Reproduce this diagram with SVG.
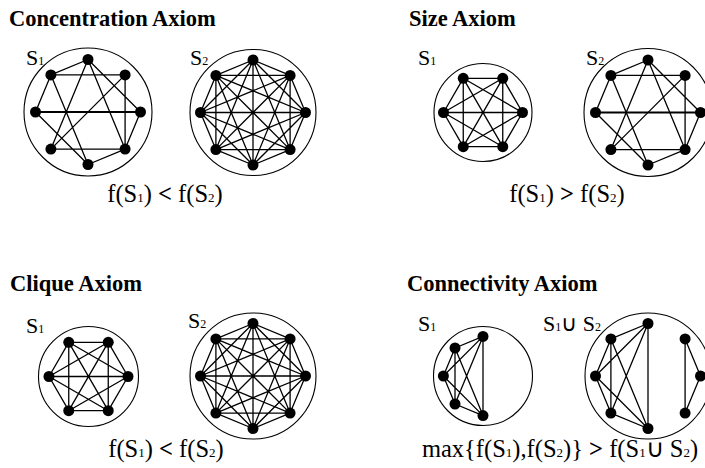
<svg xmlns="http://www.w3.org/2000/svg" xmlns:xlink="http://www.w3.org/1999/xlink" width="705" height="468" viewBox="0 0 705 468">
<style>
.ring{fill:none;stroke:#000;stroke-width:1.1}
.edge{fill:none;stroke:#000;stroke-width:1.3}
.thick{fill:none;stroke:#000;stroke-width:1.9}
.v{fill:#000}
.title{font-family:"Liberation Serif","Times New Roman",serif;font-weight:bold;font-size:22.5px;fill:#000}
.lbl{font-family:"Liberation Serif","Times New Roman",serif;font-size:22px;fill:#000}
.f{font-family:"Liberation Serif","Times New Roman",serif;font-size:24.5px;fill:#000}
.sub{font-size:13px}
.lbl .sub{font-size:12px}
.op{font-weight:bold}
</style>
<defs>
<g id="oct-nodes">
<circle class="v" cx="0" cy="-52.5" r="5.5"/><circle class="v" cx="37.1" cy="-37.1" r="5.5"/><circle class="v" cx="52.5" cy="0" r="5.5"/><circle class="v" cx="37.1" cy="37.1" r="5.5"/><circle class="v" cx="0" cy="52.5" r="5.5"/><circle class="v" cx="-37.1" cy="37.1" r="5.5"/><circle class="v" cx="-52.5" cy="0" r="5.5"/><circle class="v" cx="-37.1" cy="-37.1" r="5.5"/>
</g>
<g id="hex-nodes">
<circle class="v" cx="-39.5" cy="0" r="5.5"/><circle class="v" cx="39.5" cy="0" r="5.5"/><circle class="v" cx="-19.75" cy="-34.2" r="5.5"/><circle class="v" cx="19.75" cy="-34.2" r="5.5"/><circle class="v" cx="-19.75" cy="34.2" r="5.5"/><circle class="v" cx="19.75" cy="34.2" r="5.5"/>
</g>
<path id="k8" class="edge" d="M0,-52.5L37.1,-37.1M0,-52.5L52.5,0M0,-52.5L37.1,37.1M0,-52.5L0,52.5M0,-52.5L-37.1,37.1M0,-52.5L-52.5,0M0,-52.5L-37.1,-37.1M37.1,-37.1L52.5,0M37.1,-37.1L37.1,37.1M37.1,-37.1L0,52.5M37.1,-37.1L-37.1,37.1M37.1,-37.1L-52.5,0M37.1,-37.1L-37.1,-37.1M52.5,0L37.1,37.1M52.5,0L0,52.5M52.5,0L-37.1,37.1M52.5,0L-52.5,0M52.5,0L-37.1,-37.1M37.1,37.1L0,52.5M37.1,37.1L-37.1,37.1M37.1,37.1L-52.5,0M37.1,37.1L-37.1,-37.1M0,52.5L-37.1,37.1M0,52.5L-52.5,0M0,52.5L-37.1,-37.1M-37.1,37.1L-52.5,0M-37.1,37.1L-37.1,-37.1M-52.5,0L-37.1,-37.1"/>
<path id="k6" class="edge" d="M-19.75,-34.2L19.75,-34.2M-19.75,-34.2L39.5,0M-19.75,-34.2L19.75,34.2M-19.75,-34.2L-19.75,34.2M-19.75,-34.2L-39.5,0M19.75,-34.2L39.5,0M19.75,-34.2L19.75,34.2M19.75,-34.2L-19.75,34.2M19.75,-34.2L-39.5,0M39.5,0L19.75,34.2M39.5,0L-19.75,34.2M39.5,0L-39.5,0M19.75,34.2L-19.75,34.2M19.75,34.2L-39.5,0M-19.75,34.2L-39.5,0"/>
<g id="sparse8">
<path class="edge" d="M0,-52.5L-37.1,-37.1M-37.1,-37.1L37.1,-37.1M0,-52.5L-37.1,37.1M0,-52.5L37.1,37.1M0,-52.5L52.5,0M-37.1,-37.1L-52.5,0M-37.1,-37.1L0,52.5M-52.5,0L0,52.5M37.1,-37.1L-37.1,37.1M37.1,-37.1L37.1,37.1M52.5,0L37.1,37.1M-37.1,37.1L37.1,37.1M37.1,37.1L0,52.5"/>
<path class="thick" d="M-52.5,0L52.5,0"/>
</g>
</defs>

<g id="titles">
<text class="title" x="9" y="26">Concentration Axiom</text>
<text class="title" x="409" y="26">Size Axiom</text>
<text class="title" x="10" y="291">Clique Axiom</text>
<text class="title" x="407" y="291">Connectivity Axiom</text>
</g>

<g id="conc-s1" transform="translate(88,112)">
<circle class="ring" r="64"/>
<g class="connectors"><use xlink:href="#sparse8"/></g>
<use xlink:href="#oct-nodes"/>
</g>
<g id="conc-s2" transform="translate(253,112.5)">
<circle class="ring" r="63"/>
<g class="connectors"><use xlink:href="#k8"/></g>
<use xlink:href="#oct-nodes"/>
</g>
<g id="size-s1" transform="translate(483,112.5)">
<circle class="ring" r="49"/>
<g class="connectors"><use xlink:href="#k6"/></g>
<use xlink:href="#hex-nodes"/>
</g>
<g id="size-s2" transform="translate(648,112.5)">
<circle class="ring" r="64"/>
<g class="connectors"><use xlink:href="#sparse8"/></g>
<use xlink:href="#oct-nodes"/>
</g>
<g id="clique-s1" transform="translate(88.5,376.5)">
<circle class="ring" r="50"/>
<g class="connectors"><use xlink:href="#k6"/></g>
<use xlink:href="#hex-nodes"/>
</g>
<g id="clique-s2" transform="translate(253,376)">
<circle class="ring" r="63"/>
<g class="connectors"><use xlink:href="#k8"/></g>
<use xlink:href="#oct-nodes"/>
</g>
<g id="conn-s1" transform="translate(483,376)">
<circle class="ring" r="49.5"/>
<g class="connectors">
<path class="edge" d="M0,-39.6L-28,-28M0,-39.6L-39.6,0M0,-39.6L-28,28M0,-39.6L0,39.6M-28,-28L-39.6,0M-28,-28L-28,28M-28,-28L0,39.6M-39.6,0L-28,28M-39.6,0L0,39.6M-28,28L0,39.6"/>
</g>
<circle class="v" cx="0" cy="-39.6" r="5.5"/><circle class="v" cx="-28" cy="-28" r="5.5"/><circle class="v" cx="-39.6" cy="0" r="5.5"/><circle class="v" cx="-28" cy="28" r="5.5"/><circle class="v" cx="0" cy="39.6" r="5.5"/>
</g>
<g id="conn-s12" transform="translate(648,376)">
<circle class="ring" r="63"/>
<g class="connectors">
<path class="edge" d="M0,-52.5L-37.1,-37.1M0,-52.5L-52.5,0M0,-52.5L-37.1,37.1M0,-52.5L0,52.5M-37.1,-37.1L-52.5,0M-37.1,-37.1L-37.1,37.1M-37.1,-37.1L0,52.5M-52.5,0L-37.1,37.1M-52.5,0L0,52.5M-37.1,37.1L0,52.5M37.1,-37.1L52.5,0M52.5,0L37.1,37.1M37.1,-37.1L37.1,37.1"/>
</g>
<use xlink:href="#oct-nodes"/>
</g>

<g id="labels">
<text class="lbl" x="26" y="65">S<tspan class="sub">1</tspan></text>
<text class="lbl" x="190" y="65">S<tspan class="sub">2</tspan></text>
<text class="lbl" x="418" y="65">S<tspan class="sub">1</tspan></text>
<text class="lbl" x="586" y="65">S<tspan class="sub">2</tspan></text>
<text class="lbl" x="26" y="333">S<tspan class="sub">1</tspan></text>
<text class="lbl" x="188" y="328">S<tspan class="sub">2</tspan></text>
<text class="lbl" x="418" y="331">S<tspan class="sub">1</tspan></text>
<text class="lbl" x="543" y="331">S<tspan class="sub">1</tspan>∪ S<tspan class="sub">2</tspan></text>
</g>

<g id="formulas">
<text class="f" x="165" y="202" text-anchor="middle">f(S<tspan class="sub">1</tspan>) <tspan class="op">&lt;</tspan> f(S<tspan class="sub">2</tspan>)</text>
<text class="f" x="567" y="202" text-anchor="middle">f(S<tspan class="sub">1</tspan>) <tspan class="op">&gt;</tspan> f(S<tspan class="sub">2</tspan>)</text>
<text class="f" x="166" y="457" text-anchor="middle">f(S<tspan class="sub">1</tspan>) <tspan class="op">&lt;</tspan> f(S<tspan class="sub">2</tspan>)</text>
<text class="f" x="560" y="457" text-anchor="middle">max{f(S<tspan class="sub">1</tspan>),f(S<tspan class="sub">2</tspan>)} <tspan class="op">&gt;</tspan> f(S<tspan class="sub">1</tspan>∪ S<tspan class="sub">2</tspan>)</text>
</g>
</svg>
